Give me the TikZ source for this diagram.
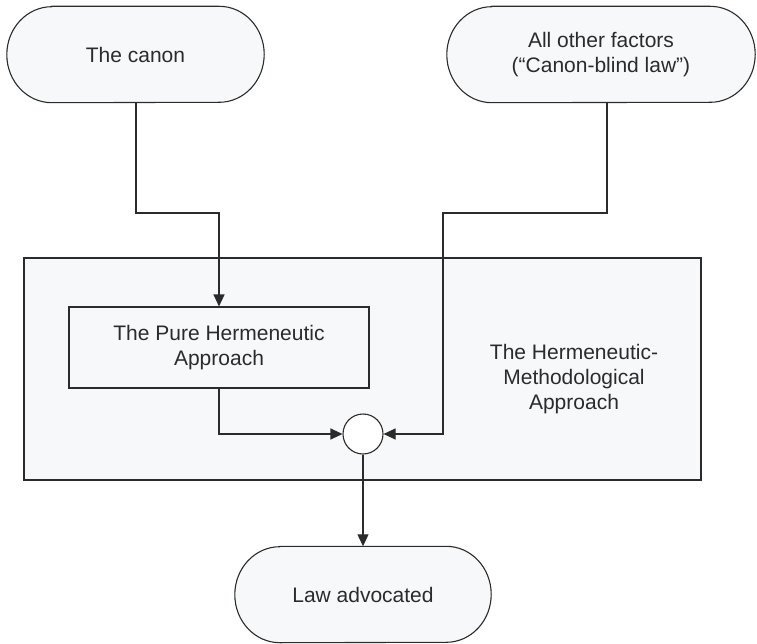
\documentclass[tikz,border=0pt]{standalone}
\usepackage{fontspec}
\setmainfont{Liberation Sans}
\usetikzlibrary{arrows.meta,backgrounds}
\definecolor{boxfill}{HTML}{F7F8FA}
\definecolor{inkline}{HTML}{2B2B2B}
% pill outline round a named node: half-elliptic ends, x radius 45pt, y radius 48pt
\newcommand\pillround[1]{%
  \draw[pillline] ([xshift=45pt]#1.north west) -- ([xshift=-45pt]#1.north east)
    arc[start angle=90, end angle=-90, x radius=45pt, y radius=48pt]
    -- ([xshift=45pt]#1.south west)
    arc[start angle=270, end angle=90, x radius=45pt, y radius=48pt] -- cycle;}
\begin{document}
\begin{tikzpicture}[x=1pt,y=-1pt,
  every node/.style={font=\fontsize{21}{25}\selectfont, text=inkline, align=center},
  terminal/.style={rectangle, minimum height=96pt, inner sep=0pt},
  pillline/.style={draw=inkline, fill=boxfill, line width=1.1pt},
  panel/.style={rectangle, draw=inkline, fill=boxfill, line width=1.1pt, inner sep=0pt},
  junction/.style={circle, draw=inkline, fill=white, line width=1.1pt,
    minimum size=40pt, inner sep=0pt},
  link/.style={draw=inkline, line width=1.1pt, -{Triangle[length=12pt,width=11pt]}}
]
\useasboundingbox (0,0) rectangle (757,644);

% outer panel with its caption
\node[panel, minimum width=677pt, minimum height=222pt] (outer) at (362.5,369) {};
\node (outerlbl) at (574,379) {The Hermeneutic-\\Methodological\\Approach};

% inner panel
\node[panel, minimum width=300pt, minimum height=81pt] (pure) at (219,347.5)
  {The Pure Hermeneutic\\Approach};

% terminals
\node[terminal, minimum width=257pt] (canon) at (135.5,54.5) {The canon};
\node[terminal, minimum width=308pt] (other) at (601,54.5)
  {All other factors\\(“Canon-blind law”)};
\node[terminal, minimum width=256pt] (law) at (363,594.5) {Law advocated};

% pill outlines behind the terminal texts
\begin{scope}[on background layer]
  \pillround{canon}
  \pillround{other}
  \pillround{law}
\end{scope}

% combining point
\node[junction] (join) at (363,434) {};

% routing points of the connectors
\coordinate (ltop) at (136,213);
\coordinate (rtop) at (607,213);
\coordinate (rleft) at (443,213);

% connectors
\draw[link] (canon.south -| ltop) -- (ltop) -| (pure.north);
\draw[link] (other.south -| rtop) -- (rtop) -- (rleft) |- (join.east);
\draw[link] (pure.south) |- (join.west);
\draw[link] (join.south) -- (law.north);
\end{tikzpicture}
\end{document}
